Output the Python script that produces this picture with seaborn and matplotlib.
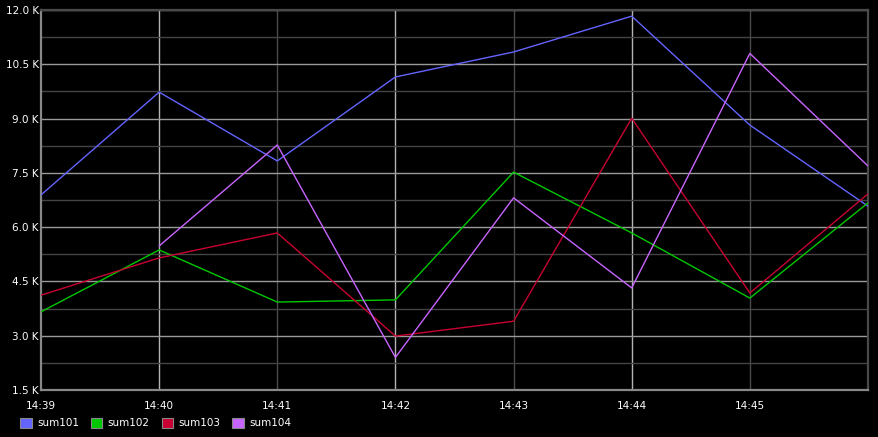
import numpy as np
import pandas as pd
import matplotlib
matplotlib.use('Agg')
import matplotlib.pyplot as plt
import seaborn as sns
from matplotlib.patches import Patch
from matplotlib.ticker import MultipleLocator, FuncFormatter

# data (values in units, one point per minute)
times = ['14:39', '14:40', '14:41', '14:42', '14:43', '14:44', '14:45', '14:46']
sum101 = [6890, 9730, 7830, 10150, 10840, 11830, 8820, 6580]
sum102 = [3660, 5370, 3930, 3990, 7520, 5840, 4040, 6670]
sum103 = [4120, 5150, 5840, 2990, 3400, 9010, 4180, 6920]
sum104 = [np.nan, 5480, 8270, 2400, 6810, 4320, 10800, 7690]

series = {'sum101': sum101, 'sum102': sum102, 'sum103': sum103, 'sum104': sum104}
colors = {'sum101': '#6464FF', 'sum102': '#00C800', 'sum103': '#C80032', 'sum104': '#C864FF'}

rows = []
for name, vals in series.items():
    for i, v in enumerate(vals):
        rows.append({'t': i, 'value': v, 'series': name})
df = pd.DataFrame(rows).dropna()

sns.set_style('dark', {'axes.facecolor': 'black', 'figure.facecolor': 'black'})
plt.rcParams['font.family'] = ['DejaVu Sans']

fig = plt.figure(figsize=(8.79, 4.37), dpi=100, facecolor='black')
ax = fig.add_axes([41 / 879, 1 - 390 / 437, 827 / 879, 380 / 437])
ax.set_facecolor('black')

# grid lines drawn first so the series sit on top
for i in range(1, len(times) - 1):
    ax.axvline(i, color='#b4b4b4' if i % 2 == 1 else '#4a4a4a', lw=1, zorder=0)
ax.yaxis.set_major_locator(MultipleLocator(1500))
ax.yaxis.set_minor_locator(MultipleLocator(750))
ax.grid(True, which='major', axis='y', color='#9a9a9a', lw=1, zorder=0)
ax.grid(True, which='minor', axis='y', color='#444444', lw=1, zorder=0)
ax.set_axisbelow(True)

sns.lineplot(data=df, x='t', y='value', hue='series', palette=colors,
             lw=1.0, legend=False, ax=ax, zorder=3)

ax.set_xlim(0, len(times) - 1)
ax.set_ylim(1500, 12000)
ax.set_xticks(range(len(times) - 1))
ax.set_xticklabels(times[:-1])
ax.yaxis.set_major_formatter(FuncFormatter(lambda v, _: f'{v / 1000:.1f} K'))
ax.tick_params(which='both', length=0, colors='white', labelsize=7.5)
ax.tick_params(axis='x', pad=8)
ax.tick_params(axis='y', pad=1.5)
ax.set_xlabel('')
ax.set_ylabel('')

for side, spine in ax.spines.items():
    spine.set_visible(True)
    spine.set_linewidth(1.6)
    spine.set_color('#888888' if side in ('left', 'bottom') else '#4a4a4a')

handles = [Patch(facecolor=colors[n], edgecolor='#888888', lw=0.8, label=n) for n in series]
leg = fig.legend(handles=handles, loc='lower left', bbox_to_anchor=(0.0125, -0.002),
                 ncol=4, frameon=False, fontsize=7.5, handlelength=1.1,
                 handleheight=1.1, handletextpad=0.5, columnspacing=1.15)
for txt in leg.get_texts():
    txt.set_color('white')

fig.savefig('out.png', dpi=100, facecolor='black')
